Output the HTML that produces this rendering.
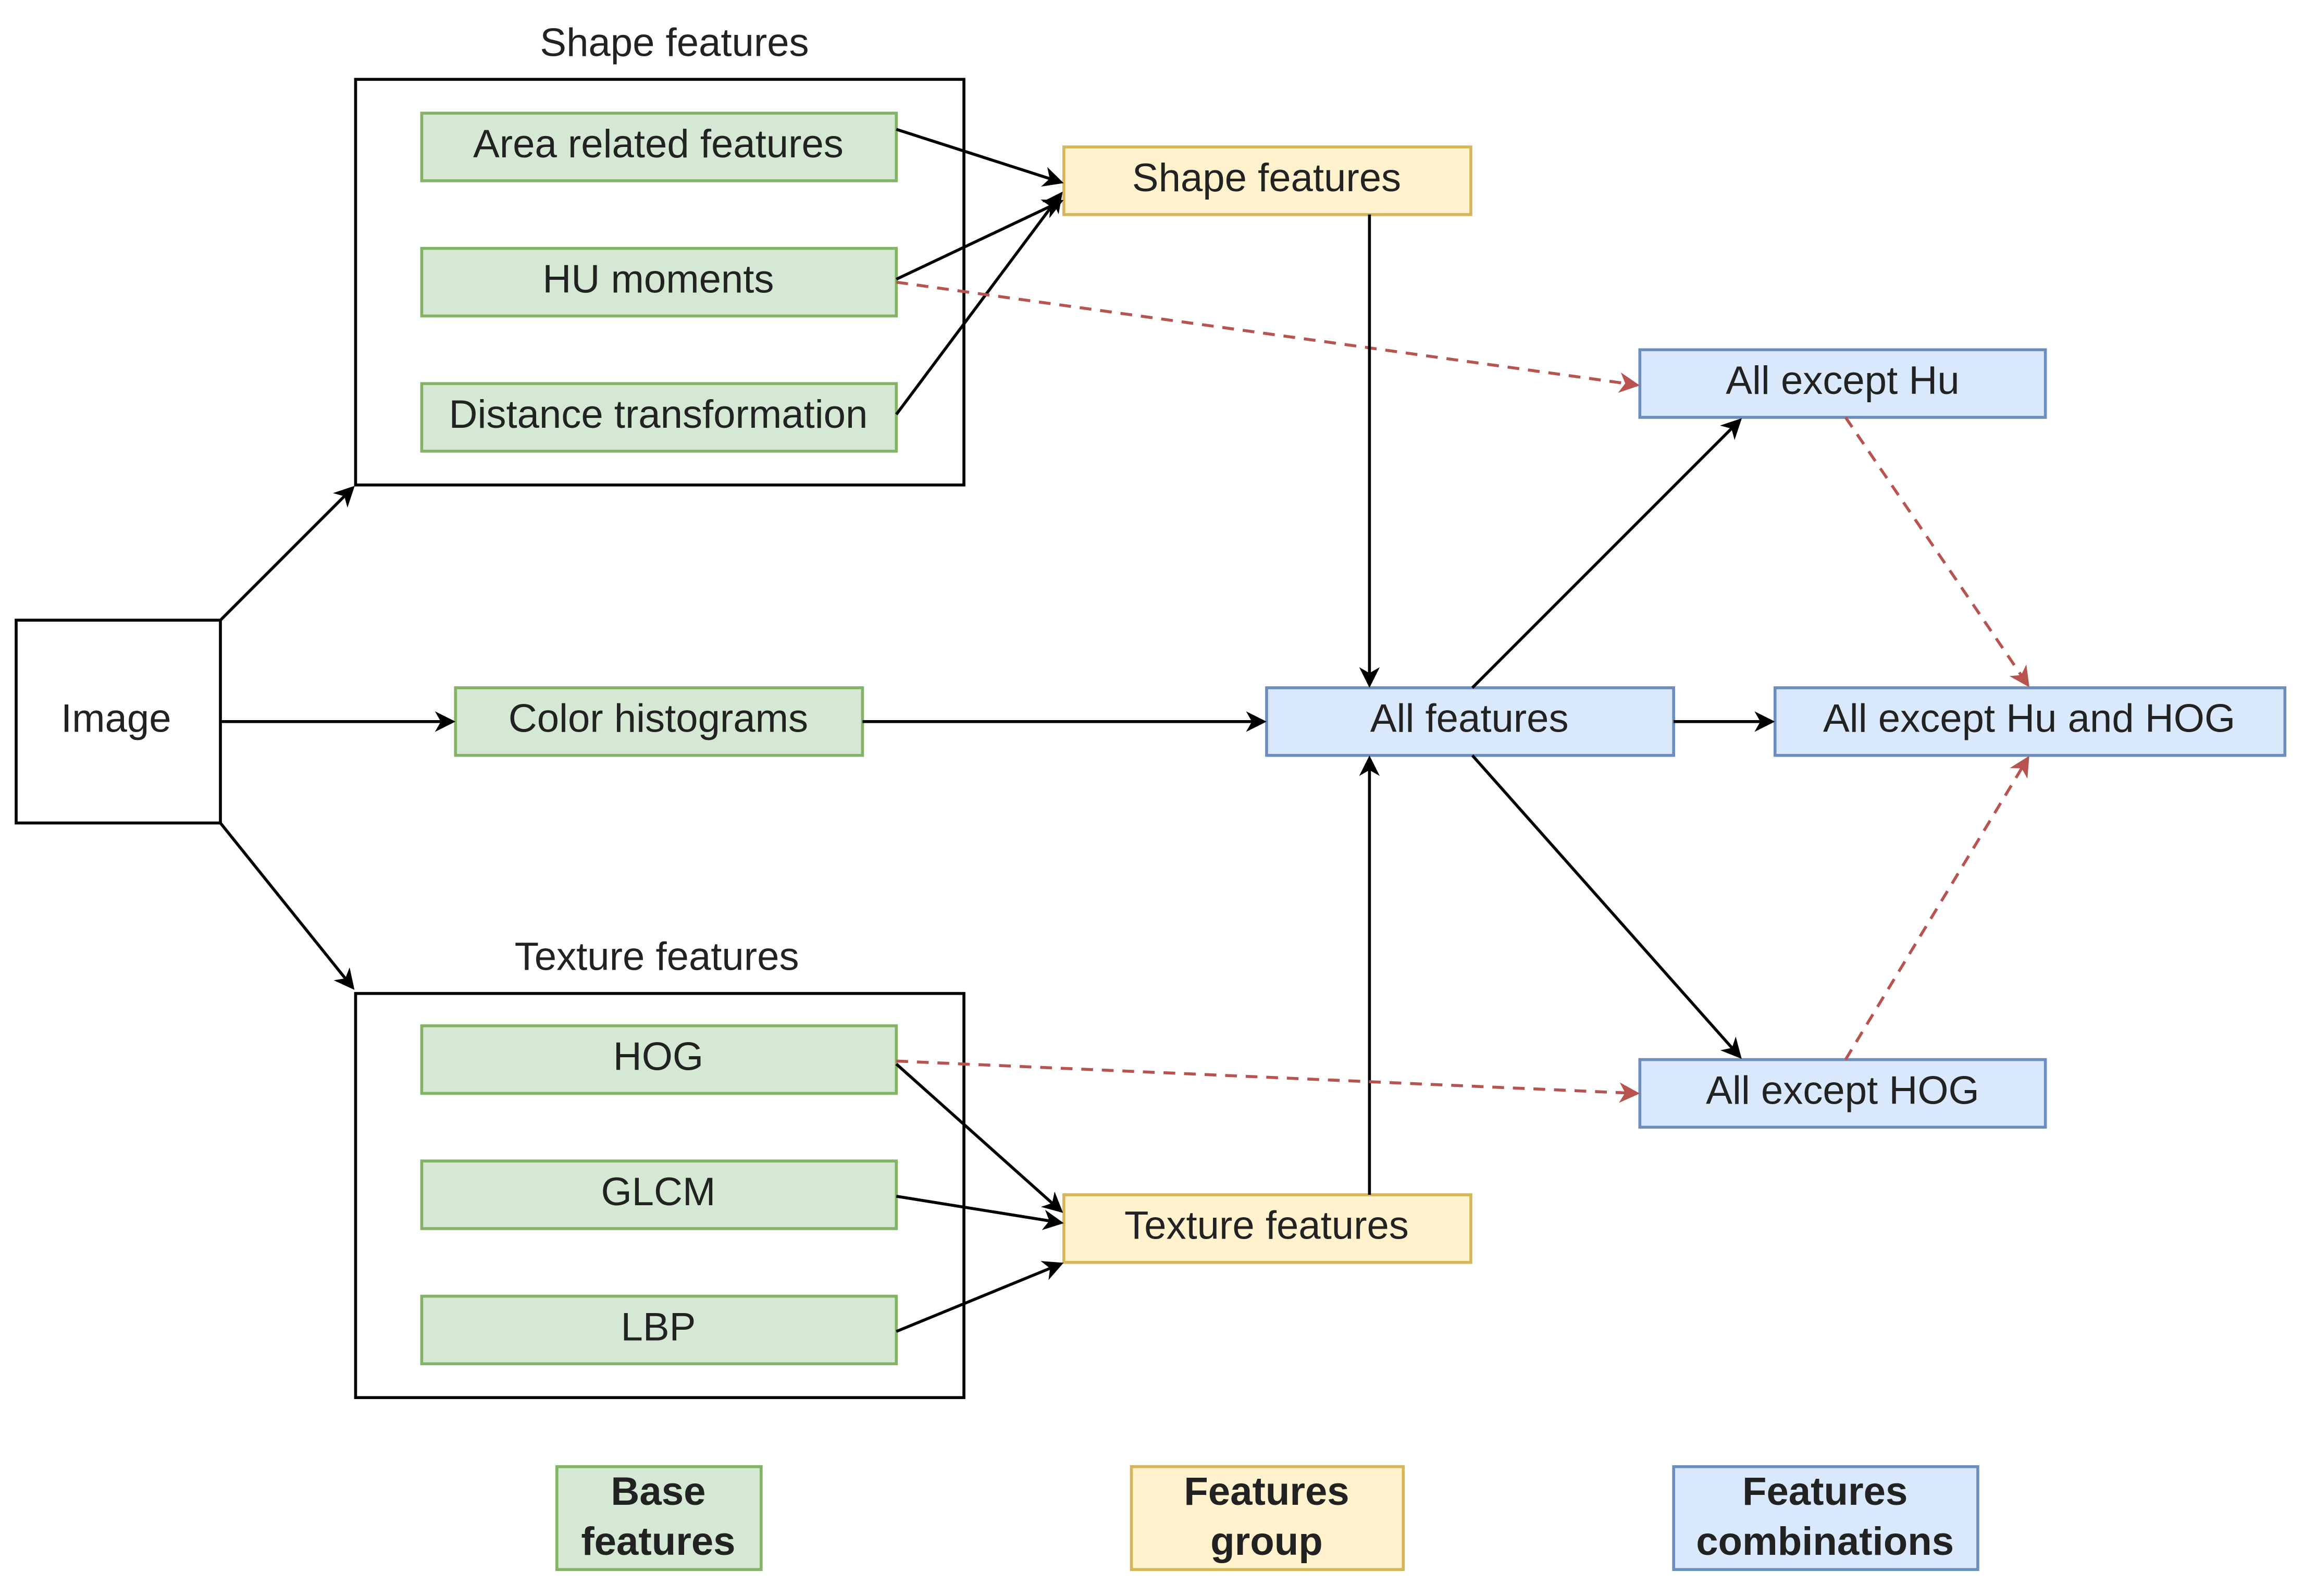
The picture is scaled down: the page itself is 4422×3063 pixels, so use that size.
<!DOCTYPE html>
<html><head><meta charset="utf-8"><style>
html,body{margin:0;padding:0;background:#fff;}
svg{display:block;width:4422px;height:3063px;}
text{font-family:"Liberation Sans",Arial,sans-serif;font-size:27px;fill:#222;text-anchor:middle;dominant-baseline:central;}
.g{fill:#d5e8d4;stroke:#82b366;stroke-width:2;}
.y{fill:#fff2cc;stroke:#d6b656;stroke-width:2;}
.b{fill:#dae8fc;stroke:#6c8ebf;stroke-width:2;}
.k{fill:#fff;stroke:#000;stroke-width:2;}
.a{stroke:#000;stroke-width:2;fill:none;marker-end:url(#ak);}
.d{stroke:#b85450;stroke-width:2;fill:none;stroke-dasharray:8 6;marker-end:url(#ar);}
.bold{font-weight:bold;}
</style></head><body>
<svg viewBox="0 0 1568 1086" preserveAspectRatio="none" xmlns="http://www.w3.org/2000/svg">
<defs>
<marker id="ak" markerWidth="14" markerHeight="14" refX="12" refY="7" orient="auto" markerUnits="userSpaceOnUse"><path d="M0,0 L14,7 L0,14 L4,7 z" fill="#000"/></marker>
<marker id="ar" markerWidth="14" markerHeight="14" refX="12" refY="7" orient="auto" markerUnits="userSpaceOnUse"><path d="M0,0 L14,7 L0,14 L4,7 z" fill="#b85450"/></marker>
</defs>
<rect width="1568" height="1086" fill="#fff"/>
<rect class="k" x="242" y="54" width="414" height="276"/>
<text x="459" y="29">Shape features</text>
<rect class="k" x="242" y="676" width="414" height="275"/>
<text x="447" y="651">Texture features</text>
<rect class="k" x="11" y="422" width="139" height="138"/>
<text x="79" y="489">Image</text>
<rect class="g" x="287" y="77" width="323" height="46"/><text x="448" y="98">Area related features</text>
<rect class="g" x="287" y="169" width="323" height="46"/><text x="448" y="190">HU moments</text>
<rect class="g" x="287" y="261" width="323" height="46"/><text x="448" y="282">Distance transformation</text>
<rect class="g" x="310" y="468" width="277" height="46"/><text x="448" y="489">Color histograms</text>
<rect class="g" x="287" y="698" width="323" height="46"/><text x="448" y="719">HOG</text>
<rect class="g" x="287" y="790" width="323" height="46"/><text x="448" y="811">GLCM</text>
<rect class="g" x="287" y="882" width="323" height="46"/><text x="448" y="903">LBP</text>
<rect class="y" x="724" y="100" width="277" height="46"/><text x="862" y="121">Shape features</text>
<rect class="y" x="724" y="813" width="277" height="46"/><text x="862" y="834">Texture features</text>
<rect class="b" x="862" y="468" width="277" height="46"/><text x="1000" y="489">All features</text>
<rect class="b" x="1116" y="238" width="276" height="46"/><text x="1254" y="259">All except Hu</text>
<rect class="b" x="1208" y="468" width="347" height="46"/><text x="1381" y="489">All except Hu and HOG</text>
<rect class="b" x="1116" y="721" width="276" height="46"/><text x="1254" y="742">All except HOG</text>
<rect class="g" x="379" y="998" width="139" height="70"/><text class="bold" x="448" y="1015">Base</text><text class="bold" x="448" y="1049">features</text>
<rect class="y" x="770" y="998" width="185" height="70"/><text class="bold" x="862" y="1015">Features</text><text class="bold" x="862" y="1049">group</text>
<rect class="b" x="1139" y="998" width="207" height="70"/><text class="bold" x="1242" y="1015">Features</text><text class="bold" x="1242" y="1049">combinations</text>
<line class="a" x1="150" y1="422" x2="240" y2="332"/>
<line class="a" x1="150" y1="491" x2="308" y2="491"/>
<line class="a" x1="150" y1="560" x2="240" y2="672"/>
<line class="a" x1="610" y1="88" x2="722" y2="124"/>
<line class="a" x1="610" y1="190" x2="722" y2="137"/>
<line class="a" x1="610" y1="282" x2="722" y2="132"/>
<line class="d" x1="610" y1="192" x2="1114" y2="262"/>
<line class="a" x1="932" y1="146" x2="932" y2="466"/>
<line class="a" x1="587" y1="491" x2="860" y2="491"/>
<line class="a" x1="932" y1="813" x2="932" y2="516"/>
<line class="a" x1="1002" y1="468" x2="1184" y2="286"/>
<line class="a" x1="1002" y1="514" x2="1184" y2="719"/>
<line class="a" x1="1139" y1="491" x2="1206" y2="491"/>
<line class="d" x1="1256" y1="284" x2="1380" y2="466"/>
<line class="d" x1="1256" y1="721" x2="1380" y2="516"/>
<line class="d" x1="610" y1="722" x2="1114" y2="744"/>
<line class="a" x1="610" y1="724" x2="722" y2="824"/>
<line class="a" x1="610" y1="814" x2="722" y2="832"/>
<line class="a" x1="610" y1="906" x2="722" y2="860"/>
</svg>
</body></html>
